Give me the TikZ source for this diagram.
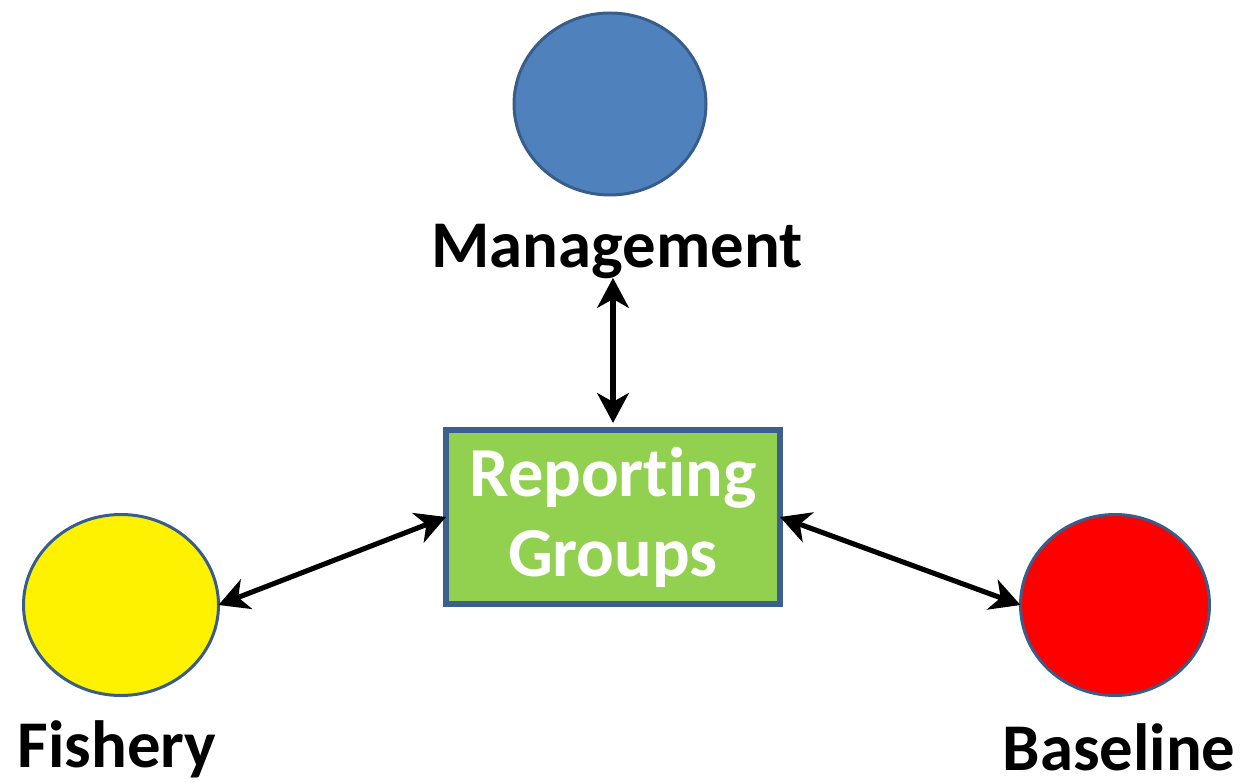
\documentclass[tikz,border=0pt]{standalone}
\usepackage{fontspec}
\setmainfont[RawFeature=-liga]{Carlito}
\usetikzlibrary{shapes.geometric,arrows.meta}

\begin{document}
\begin{tikzpicture}[x=0.02cm,y=-0.02cm,
  blob/.style={ellipse, line width=1.7pt, outer sep=0pt},
  lbl/.style={anchor=base, inner sep=1pt, font=\fontsize{38}{44}\selectfont\bfseries},
  link/.style={line width=2.9pt, {Stealth[length=17pt,width=18pt,inset=5pt]}-{Stealth[length=17pt,width=18pt,inset=5pt]}}]
\definecolor{mgmtblue}{HTML}{4F81BD}
\definecolor{mgmtedge}{HTML}{385D8A}
\definecolor{repgreen}{HTML}{92D050}
\definecolor{repedge}{HTML}{3B608E}
\useasboundingbox (0,0) rectangle (1244,783);

% the three groups
\node[blob, draw=mgmtedge, fill=mgmtblue, minimum width=192*0.02cm, minimum height=182*0.02cm] (mgmt) at (610,104) {};
\node[blob, draw=mgmtedge, fill=yellow, minimum width=195*0.02cm, minimum height=181*0.02cm] (fish) at (121,605) {};
\node[blob, draw=mgmtedge, fill=red, minimum width=189*0.02cm, minimum height=181*0.02cm] (base) at (1115,605) {};

\node[lbl] (mgmtlbl) at (617,268) {Management};
\node[lbl] (fishlbl) at (117,767) {Fishery};
\node[lbl] (baselbl) at (1119,770) {Baseline};

% reporting box
\node[draw=repedge, fill=repgreen, line width=3.4pt, outer sep=0pt,
      minimum width=334*0.02cm, minimum height=174*0.02cm,
      align=center, text=white, font=\fontsize{40}{45.5}\selectfont\bfseries] (rep) at (613,517) {Reporting\\Groups};

\draw[link, shorten >=4pt, shorten <=-2pt] (mgmtlbl.south -| rep.north) -- (rep.north);
\draw[link] (fish.east) -- (rep.west);
\draw[link] (rep.east) -- (base.west);
\end{tikzpicture}
\end{document}
